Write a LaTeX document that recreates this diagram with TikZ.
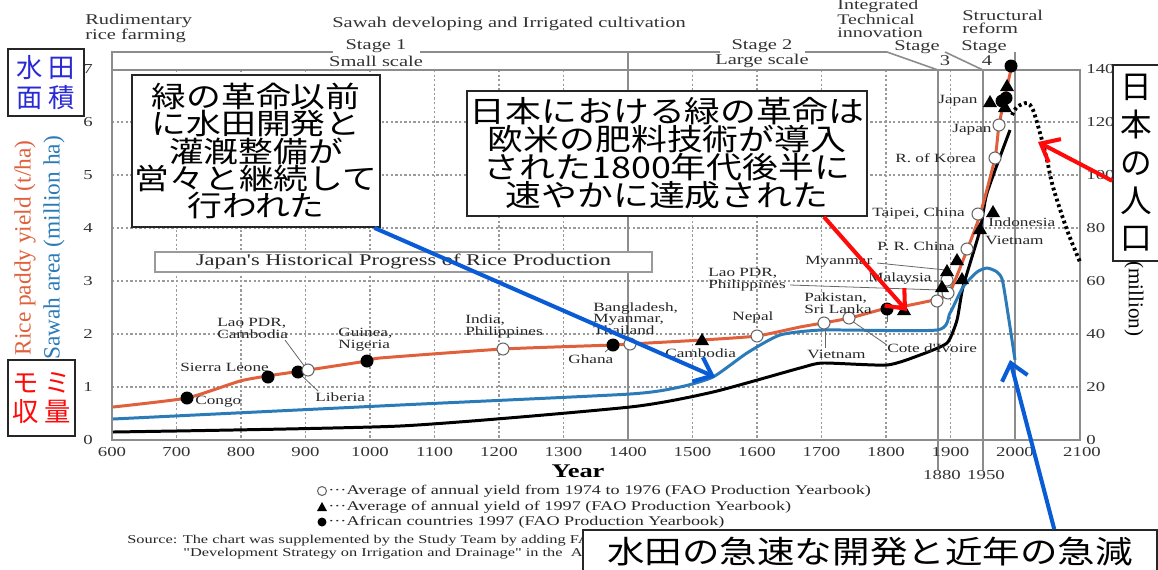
\documentclass[tikz,border=0pt]{standalone}
\usepackage{fontspec}
\setmainfont{Liberation Serif}
\newfontfamily\cf[FakeStretch=1.37]{Liberation Serif}
\newfontfamily\jp[FakeStretch=1.2]{Noto Sans CJK JP}
\newfontfamily\jpn{Noto Sans CJK JP}
\usetikzlibrary{arrows.meta,calc}
\definecolor{yieldc}{HTML}{E0603C}
\definecolor{areac}{HTML}{2B7BB9}
\definecolor{gridc}{HTML}{9A9A9A}
\definecolor{axc}{HTML}{8C8C8C}
\definecolor{annblue}{HTML}{0A5CD6}
\definecolor{annred}{HTML}{FF0A0A}
\definecolor{jpblue}{HTML}{2A2AD4}
\newcommand\mkoc[2]{\filldraw[draw=black!60,fill=white,line width=0.6pt] (#1,#2) circle[radius=6];}
\newcommand\mkdot[2]{\fill[black] (#1,#2) circle[radius=6.5];}
\newcommand\mktri[2]{\fill[black] (#1,#2) +(0,-7) -- +(7,5) -- +(-7,5) -- cycle;}
\begin{document}
\begin{tikzpicture}[x=0.02cm,y=-0.02cm,
  lab/.style={font=\cf\fontsize{7.15}{6.7}\selectfont, inner sep=0pt, align=left, text=black!85},
  hdr/.style={font=\cf\fontsize{8.5}{7.4}\selectfont, inner sep=0pt, align=left, text=black!80},
  tick/.style={font=\cf\fontsize{7.8}{8}\selectfont, inner sep=0pt, text=black!80},
  leg/.style={font=\cf\fontsize{7.55}{8}\selectfont, inner sep=0pt, anchor=west, text=black!85},
  src/.style={font=\cf\fontsize{6.8}{8}\selectfont, inner sep=0pt, anchor=west, text=black!85},
  gridl/.style={draw=gridc, line width=0.7pt, dash pattern=on 1.3pt off 1.3pt},
  vline/.style={draw=axc, line width=0.9pt},
  lead/.style={draw=black!60, line width=0.45pt},
  jbox/.style={draw=black!85, line width=1pt, fill=white, inner sep=0pt, align=center},
  curve/.style={line width=1.7pt, line join=round},
  annarrow/.style={line width=2.3pt, -{Straight Barb[length=9pt,width=15pt]}},
]
\useasboundingbox (0,0) rectangle (1158,569);
\fill[white] (0,0) rectangle (1158,569);

% grid
\foreach \gx in {176.5,241,305.5,370,434.5,499,563.5,692.5,757,821.5,886,950.5}
  \draw[gridl] (\gx,70) -- (\gx,440);
\foreach \gy in {122,175,228,281,334,387}
  \draw[gridl] (112,\gy) -- (1080,\gy);

% frame and header lines
\draw[vline] (112,70) rectangle (1080,440);
\draw[vline] (112,70) -- (112,52) -- (333,52);
\draw[vline] (420,52) -- (720,52);
\draw[vline] (805,52) -- (887,52) -- (938,70);
\draw[vline] (945,52) -- (983,70);
\draw[vline] (628,52) -- (628,440);
\draw[vline] (938,70) -- (938,470);
\draw[vline] (983,70) -- (983,470);
\draw[vline] (1015,52) -- (1015,440);

% header texts
\node[hdr, anchor=west] (rud) at (85,28.5) {Rudimentary\\rice farming};
\node[hdr, anchor=west] (sawah) at (332,24) {Sawah developing and Irrigated cultivation};
\node[hdr, anchor=west, font=\cf\fontsize{8.3}{7.1}\selectfont] (integ) at (837,18.5) {Integrated\\Technical\\innovation};
\node[hdr, anchor=west] (struct) at (962,21.5) {Structural\\reform};
\node[hdr] (st1) at (376,46) {Stage 1};
\node[hdr] (sm1) at (376,61) {Small scale};
\node[hdr] (st2) at (762,46) {Stage 2};
\node[hdr] (lg2) at (762,61) {Large scale};
\node[hdr] (st3) at (917,47.5) {Stage};
\node[hdr] (n3) at (945,61) {3};
\node[hdr] (st4) at (984,47.5) {Stage};
\node[hdr] (n4) at (987,61) {4};

% ticks
\foreach \v/\yy in {0/440,1/387,2/334,3/281,4/228,5/175,6/122,7/69}
  \node[tick] (l\v) at (88,\yy) {\v};
\foreach \v/\yy in {0/440,20/387,40/334,60/281,80/228,100/175,120/122,140/69}
  \node[tick, anchor=west] (r\v) at (1086,\yy) {\v};
\foreach \v/\xx in {600/112,700/176.5,800/241,900/305.5,1000/370,1100/434.5,1200/499,1300/563.5,1400/628,1500/692.5,1600/757,1700/821.5,1800/886,1900/950.5,2000/1015,2100/1082}
  \node[tick] (x\v) at (\xx,452) {\v};
\node[tick] (x1880) at (942,475) {1880};
\node[tick] (x1950) at (986,475) {1950};
\node[font=\cf\bfseries\fontsize{11}{12}\selectfont, inner sep=0pt] (year) at (578,471) {Year};

% axis titles
\node[rotate=90, font=\fontsize{13.3}{14}\selectfont, text=yieldc, inner sep=0pt] (ylab1) at (25,248) {Rice paddy yield (t/ha)};
\node[rotate=90, font=\fontsize{13.3}{14}\selectfont, text=areac, inner sep=0pt] (ylab2) at (54,248) {Sawah area (million ha)};
\node[rotate=-90, font=\fontsize{12}{13}\selectfont, inner sep=0pt] (ylab3) at (1134,299) {(million)};

% curves
\draw[black, curve] plot[smooth, tension=0.35] coordinates {(113,432) (400,426) (630,407) (713,392) (800,368) (823,363) (887,365) (920,355) (947,343) (957,320) (963,287) (980,230) (987,193) (1010,130)};
\draw[areac, curve] plot[smooth, tension=0.35] coordinates {(113,419) (400,405) (630,394) (680,387) (713,377) (747,353) (780,335) (823,330) (937,330) (950,313) (963,287) (977,272) (987,268) (997,272) (1003,283) (1015,360)};
\draw[yieldc, curve] plot[smooth, tension=0.3] coordinates {(113,407) (187,398) (240,381) (267,376) (308,370) (367,361) (380,358) (503,349) (613,345) (630,344) (702,340) (757,336) (800,327) (823,323) (850,318) (887,308) (905,306) (938,299) (950,292) (967,250) (980,215) (995,158) (999,125) (1007,87) (1012,65)};
\draw[black, line width=2.2pt, dash pattern=on 1.6pt off 1.7pt] plot[smooth, tension=0.5] coordinates {(1012,115) (1017,107) (1027,103) (1033,110) (1040,133) (1047,160) (1053,187) (1067,230) (1080,262)};

% leader lines
\draw[lead] (285,340) -- (305,367);
\draw[lead] (301,375) -- (318,391);
\draw[lead] (605,352) -- (612,346);
\draw[lead] (790,285) -- (940,290);
\draw[lead] (877,263) -- (946,270);
\draw[lead] (825,348) -- (825,327);
\draw[lead] (887,345) -- (852,321);
\draw[lead] (887,312) -- (887,322);

% markers
\mkdot{187}{398}\mkdot{268}{377}\mkdot{298}{372}\mkdot{367}{361}\mkdot{613}{345}\mkdot{887}{309}
\mkoc{308}{370}\mkoc{503}{349}\mkoc{630}{344}\mkoc{757}{336}\mkoc{824}{323}\mkoc{849}{318}
\mkoc{937}{301}\mkoc{948}{293}\mkoc{947}{280}\mkoc{967}{249}\mkoc{978}{214}\mkoc{995}{158}\mkoc{999}{125}
\mktri{702}{340}\mktri{904}{310}\mktri{942}{287}\mktri{947}{271}\mktri{957}{260}\mktri{962}{279}
\mktri{980}{229}\mktri{993}{212}\mktri{990}{102}\mktri{1005}{107}\mktri{1007}{86}
\mkdot{1002}{101}\mkdot{1006}{98}\mkdot{1011}{66}

% point labels
\node[lab, anchor=west] (congo) at (195,402) {Congo};
\node[lab, anchor=west] (sierra) at (180,367) {Sierra Leone};
\node[lab, anchor=west] (laocam) at (217,328.5) {Lao PDR,\\Cambodia};
\node[lab, anchor=west] (liberia) at (315,397) {Liberia};
\node[lab, anchor=west] (guinea) at (338,340) {Guinea,\\Nigeria};
\node[lab, anchor=west] (india) at (465,326.5) {India,\\Philippines};
\node[lab, anchor=west] (bangla) at (593,318.5) {Bangladesh,\\Myanmar,\\Thailand};
\node[lab, anchor=west] (ghana) at (568,359) {Ghana};
\node[lab, anchor=west] (cambo) at (665,353) {Cambodia};
\node[lab, anchor=west] (nepal) at (732,317) {Nepal};
\node[lab, anchor=west] (laophil) at (708,280) {Lao PDR,\\Philippines};
\node[lab, anchor=west] (myan) at (805,262) {Myanmar};
\node[lab, anchor=west] (malay) at (868,278) {Malaysia};
\node[lab, anchor=west] (pak) at (804,303.5) {Pakistan,\\Sri Lanka};
\node[lab, anchor=west] (viet1) at (807,354) {Vietnam};
\node[lab, anchor=west] (cote) at (887,348) {Cote d'Ivoire};
\node[lab, anchor=west] (prc) at (877,246) {P. R. China};
\node[lab, anchor=west] (taipei) at (872,213) {Taipei, China};
\node[lab, anchor=west] (indo) at (988,222) {Indonesia};
\node[lab, anchor=west] (viet2) at (985,240) {Vietnam};
\node[lab, anchor=west] (korea) at (895,158) {R. of Korea};
\node[lab, anchor=west] (japan1) at (952,130) {Japan};
\node[lab, anchor=west] (japan2) at (938,101) {Japan};

% title box
\node[draw=gridc, line width=0.7pt, fill=white, minimum width=9.94cm, minimum height=0.4cm, inner sep=0pt,
  font=\cf\fontsize{9.3}{10}\selectfont, text=black!85] (title) at (403.5,262) {Japan's Historical Progress of Rice Production};

% legend
\filldraw[draw=black!60,fill=white,line width=0.6pt] (322,491) circle[radius=4.5];
\node[leg] (lg1) at (328,491) {···Average of annual yield from 1974 to 1976 (FAO Production Yearbook)};
\fill[black] (322,507) +(0,-5) -- +(5,4) -- +(-5,4) -- cycle;
\node[leg] (lg2) at (328,507) {···Average of annual yield of 1997 (FAO Production Yearbook)};
\fill[black] (322,522) circle[radius=4.5];
\node[leg] (lg3) at (328,522) {···African countries 1997 (FAO Production Yearbook)};
\node[src] (src1) at (127,541) {Source: The chart was supplemented by the Study Team by adding FA};
\node[src] (src2) at (183,554) {"Development Strategy on Irrigation and Drainage" in the\ \ A};

% annotation boxes
\node[jbox, minimum width=4.96cm, minimum height=3.04cm, font=\jp\fontsize{16.5}{15.3}\selectfont] (box1) at (256,151)
  {緑の革命以前\\に水田開発と\\灌漑整備が\\営々と継続して\\行われた};
\node[jbox, minimum width=8cm, minimum height=2.5cm, font=\jp\fontsize{17}{15.9}\selectfont] (box2) at (667,153.5)
  {日本における緑の革命は\\欧米の肥料技術が導入\\された1800年代後半に\\速やかに達成された};
\node[jbox, minimum width=11.48cm, minimum height=0.88cm, font=\jp\fontsize{17.8}{18}\selectfont] (box3) at (870,552)
  {水田の急速な開発と近年の急減};
\node[jbox, minimum width=0.94cm, minimum height=3.92cm, font=\jpn\fontsize{18}{21.5}\selectfont] (pop) at (1136.5,163)
  {日\\本\\の\\人\\口};
\node[jbox, minimum width=1.52cm, minimum height=1.34cm, font=\jpn\fontsize{15}{17}\selectfont, text=jpblue] (area) at (46,82.5)
  {水 田\\面 積};
\node[jbox, minimum width=1.34cm, minimum height=1.52cm, font=\jpn\fontsize{15}{17}\selectfont, text=annred] (yield) at (41.5,398)
  {モ ミ\\収 量};

% annotation arrows
\coordinate (a1tip) at (715,377);
\coordinate (a2tip) at (907,311);
\coordinate (a3tip) at (1038,142);
\coordinate (a4tip) at (1010,360);
\draw[annblue, annarrow] (box1.-33) -- (a1tip);
\draw[annred, annarrow] (box2.-22.5) -- (a2tip);
\draw[annred, annarrow] ($(pop.north west)!0.59!(pop.south west)$) -- (a3tip);
\draw[annblue, annarrow] ($(box3.north west)!0.82!(box3.north east)$) -- (a4tip);
\end{tikzpicture}
\end{document}
